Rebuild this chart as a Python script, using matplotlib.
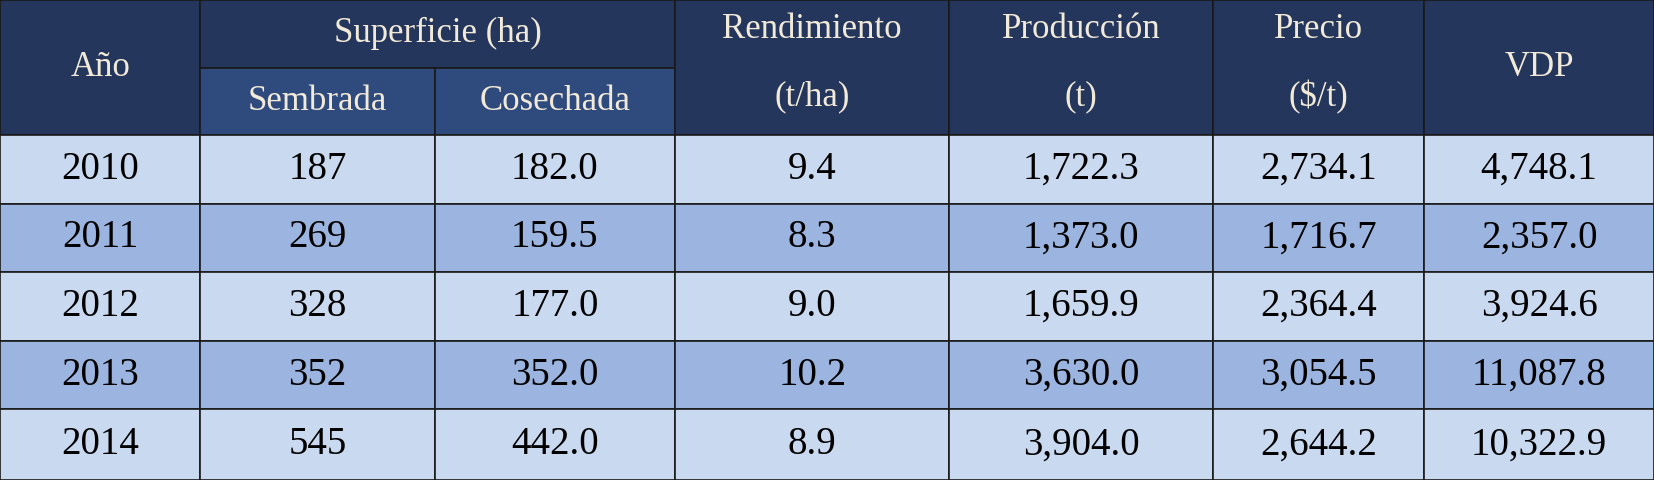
import matplotlib
matplotlib.use("Agg")
import matplotlib.pyplot as plt
from matplotlib.patches import Rectangle

# data
years = ["2010", "2011", "2012", "2013", "2014"]
sembrada = ["187", "269", "328", "352", "545"]
cosechada = ["182.0", "159.5", "177.0", "352.0", "442.0"]
rendimiento = ["9.4", "8.3", "9.0", "10.2", "8.9"]
produccion = ["1,722.3", "1,373.0", "1,659.9", "3,630.0", "3,904.0"]
precio = ["2,734.1", "1,716.7", "2,364.4", "3,054.5", "2,644.2"]
vdp = ["4,748.1", "2,357.0", "3,924.6", "11,087.8", "10,322.9"]

W, H = 1568, 455
col_x = [0, 190, 412, 640, 900, 1150, 1350, 1568]
row_y = [0, 64, 128, 193, 258, 323, 388, 455]

HEAD = "#24365b"
SUB = "#2f4a7d"
LIGHT = "#c9d9ef"
DARK = "#9bb5e0"
HTXT = "#f2ead9"
FONT = "Liberation Serif"

fig = plt.figure(figsize=(16.54, 4.8), dpi=100)
ax = fig.add_axes([0, 0, 1, 1])
ax.set_xlim(0, W)
ax.set_ylim(H, 0)
ax.axis("off")


def cell(x0, x1, y0, y1, color, text, tcolor="black", size=28):
    ax.add_patch(Rectangle((x0, y0), x1 - x0, y1 - y0, facecolor=color,
                           edgecolor="#1a1a1a", linewidth=1.2))
    ax.text((x0 + x1) / 2, (y0 + y1) / 2, text, ha="center", va="center",
            color=tcolor, fontsize=size, family=FONT)


# header
cell(col_x[0], col_x[1], row_y[0], row_y[2], HEAD, "Año", HTXT, 25)
cell(col_x[1], col_x[3], row_y[0], row_y[1], HEAD, "Superficie (ha)", HTXT, 25)
cell(col_x[1], col_x[2], row_y[1], row_y[2], SUB, "Sembrada", HTXT, 25)
cell(col_x[2], col_x[3], row_y[1], row_y[2], SUB, "Cosechada", HTXT, 25)
tops = [("Rendimiento", "(t/ha)"), ("Producción", "(t)"), ("Precio", "($/t)")]
for i, (a, b) in enumerate(tops):
    x0, x1 = col_x[3 + i], col_x[4 + i]
    cell(x0, x1, row_y[0], row_y[2], HEAD, "", HTXT)
    ax.text((x0 + x1) / 2, 28, a, ha="center", va="center", color=HTXT, fontsize=25, family=FONT)
    ax.text((x0 + x1) / 2, 92, b, ha="center", va="center", color=HTXT, fontsize=25, family=FONT)
cell(col_x[6], col_x[7], row_y[0], row_y[2], HEAD, "VDP", HTXT, 25)

cols = [years, sembrada, cosechada, rendimiento, produccion, precio, vdp]
for r in range(len(years)):
    color = LIGHT if r % 2 == 0 else DARK
    for c, vals in enumerate(cols):
        cell(col_x[c], col_x[c + 1], row_y[r + 2], row_y[r + 3], color, vals[r])

fig.savefig("out.png", dpi=100)
